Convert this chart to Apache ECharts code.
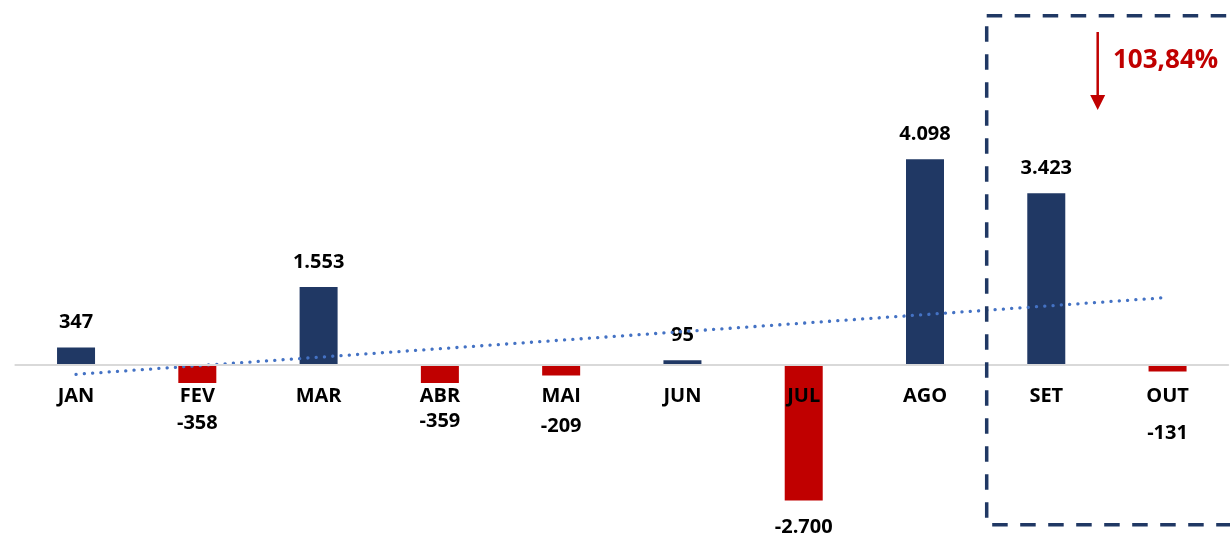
<!DOCTYPE html>
<html>
<head>
<meta charset="utf-8">
<script src="https://cdn.jsdelivr.net/npm/echarts@6/dist/echarts.min.js"></script>
<style>
  html, body { margin: 0; padding: 0; background: #ffffff; }
  #chart { width: 1230px; height: 538px; }
</style>
</head>
<body>
<div id="chart"></div>
<script>
// ---- data ----
const months = ['JAN', 'FEV', 'MAR', 'ABR', 'MAI', 'JUN', 'JUL', 'AGO', 'SET', 'OUT'];
const values = [347, -358, 1553, -359, -209, 95, -2700, 4098, 3423, -131];
// trendline end values (at JAN and OUT)
const trendStart = -185;
const trendEnd = 1345;
const annotationText = '103,84%';

// ---- styling helpers ----
const NAVY = '#203864';
const RED = '#C00000';
const FONT = 'Open Sans';
const Y_MIN = -3000, Y_MAX = 7000;
const GRID_TOP = 13.6, GRID_H = 502;
// offset that puts the category axis at the zero line
const zeroOffset = -GRID_H * (0 - Y_MIN) / (Y_MAX - Y_MIN);

function fmt(v) {
  const s = Math.abs(v).toString().replace(/\B(?=(\d{3})+(?!\d))/g, '.');
  return (v < 0 ? '-' : '') + s;
}

// label distance below negative bars (per month index), as placed in the original
const negDist = { 1: 30, 3: 28, 4: 41, 6: 17, 9: 52 };

const barData = values.map((v, i) => {
  const item = {
    value: v,
    itemStyle: { color: v >= 0 ? NAVY : RED }
  };
  if (v < 0) {
    item.label = { position: 'bottom', distance: negDist[i] !== undefined ? negDist[i] : 28 };
  }
  return item;
});

const trendData = months.map((m, i) => i === 0 ? trendStart : (i === months.length - 1 ? trendEnd : null));

const chart = echarts.init(document.getElementById('chart'), null, { renderer: 'canvas' });

const option = {
  animation: false,
  backgroundColor: '#ffffff',
  grid: { left: 15.4, width: 1212.8, top: GRID_TOP, height: GRID_H, containLabel: false, outerBoundsMode: 'none' },
  xAxis: {
    type: 'category',
    data: months,
    position: 'bottom',
    offset: zeroOffset,
    z: 8,
    axisLine: { show: true, onZero: false, lineStyle: { color: '#d9d9d9', width: 2 } },
    axisTick: { show: false },
    axisLabel: {
      margin: 21,
      color: '#000000',
      fontFamily: FONT,
      fontWeight: 'bold',
      fontSize: 20
    },
    splitLine: { show: false }
  },
  yAxis: {
    type: 'value',
    min: Y_MIN,
    max: Y_MAX,
    show: false,
    splitLine: { show: false }
  },
  series: [
    {
      type: 'bar',
      data: barData,
      barWidth: 38,
      z: 2,
      label: {
        show: true,
        position: 'top',
        distance: 15,
        color: '#000000',
        fontFamily: FONT,
        fontWeight: 'bold',
        fontSize: 20,
        formatter: p => fmt(p.value)
      }
    },
    {
      type: 'line',
      data: trendData,
      connectNulls: true,
      symbol: 'none',
      z: 3,
      lineStyle: {
        color: '#4472C4',
        width: 3.3,
        type: [0.1, 8.2],
        cap: 'round'
      },
      silent: true
    }
  ],
  graphic: [
    {
      type: 'rect',
      shape: { x: 986.7, y: 15.7, width: 260, height: 509 },
      style: {
        fill: 'none',
        stroke: NAVY,
        lineWidth: 3.5,
        lineDash: [15.5, 12.5]
      },
      z: 10
    },
    {
      type: 'line',
      shape: { x1: 1097.7, y1: 32, x2: 1097.7, y2: 96 },
      style: { stroke: RED, lineWidth: 2.5 },
      z: 10
    },
    {
      type: 'polygon',
      shape: { points: [[1090.2, 95], [1105.2, 95], [1097.7, 110]] },
      style: { fill: RED },
      z: 10
    },
    {
      type: 'text',
      x: 1113,
      y: 61,
      style: {
        text: annotationText,
        fill: RED,
        font: 'bold 26px "Open Sans"',
        textVerticalAlign: 'middle',
        verticalAlign: 'middle'
      },
      z: 10
    }
  ]
};

chart.setOption(option);
</script>
</body>
</html>
